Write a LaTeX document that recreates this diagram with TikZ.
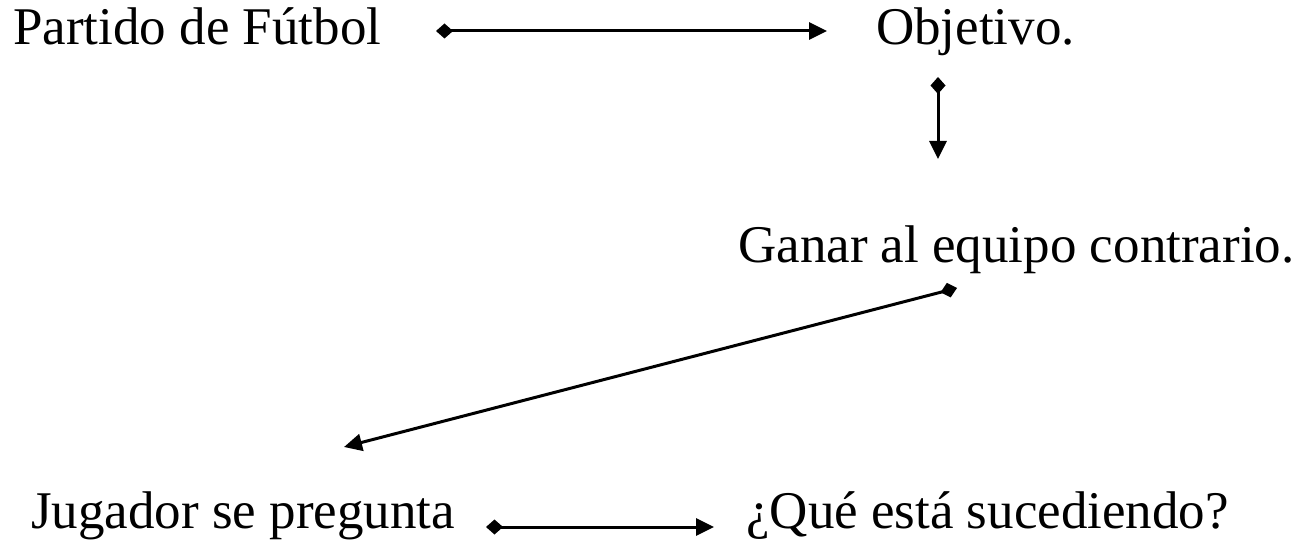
\documentclass[tikz,border=0pt]{standalone}
\usepackage{fontspec}
\setmainfont{Liberation Serif}
\usetikzlibrary{arrows.meta}
\begin{document}
\begin{tikzpicture}[x=1pt,y=-1pt,
  lbl/.style={anchor=base west,inner sep=0pt,font=\fontsize{53}{60}\selectfont},
  conn/.style={line width=3pt,{Diamond[length=17pt,width=15pt]}-{Triangle[length=18pt,width=17pt]}}]
\useasboundingbox[fill=white] (0,0) rectangle (1292,556);
\node[lbl] (pf) at (13,45) {Partido de Fútbol};
\node[lbl] (obj) at (876,45) {Objetivo.};
\node[lbl] (gan) at (738,262) {Ganar al equipo contrario.};
\node[lbl] (jug) at (31,528) {Jugador se pregunta};
\node[lbl] (que) at (746,528) {¿Qué está sucediendo?};
\coordinate (a1s) at (436,31); \coordinate (a1e) at (827,31);
\coordinate (a2s) at (938,77); \coordinate (a2e) at (938,159);
\coordinate (a3s) at (957,288); \coordinate (a3e) at (344,447);
\coordinate (a4s) at (486,527); \coordinate (a4e) at (714,527);
\draw[conn] (a1s) -- (a1e);
\draw[conn] (a2s) -- (a2e);
\draw[conn] (a3s) -- (a3e);
\draw[conn] (a4s) -- (a4e);
\end{tikzpicture}
\end{document}
